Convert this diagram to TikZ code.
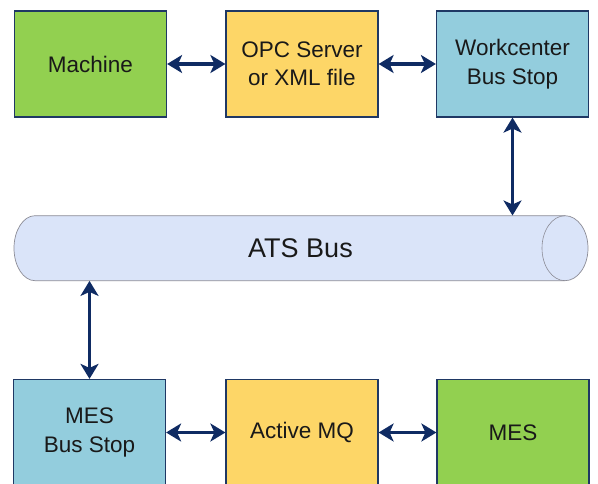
\documentclass[tikz,border=0pt]{standalone}
\usepackage{fontspec}
\setmainfont{Liberation Sans}
\usetikzlibrary{arrows.meta}
\definecolor{boxgreen}{HTML}{92D050}
\definecolor{boxyellow}{HTML}{FDD667}
\definecolor{boxblue}{HTML}{93CDDD}
\definecolor{busfill}{HTML}{DAE4F9}
\definecolor{navy}{HTML}{1F3864}
\definecolor{arrnavy}{HTML}{0F2B63}
\definecolor{busline}{HTML}{8C8C96}
\tikzset{
  blk/.style={draw=navy, line width=1.2pt, minimum width=152pt, minimum height=106pt,
    inner sep=0pt, align=center, text=black!90, font=\fontsize{22.5}{28.5}\selectfont},
  conn/.style={draw=arrnavy, line width=3.6pt,
    {Stealth[length=15pt,width=18pt,inset=4pt]}-{Stealth[length=15pt,width=18pt,inset=4pt]}}
}
\begin{document}
\begin{tikzpicture}[x=1pt,y=-1pt]
\clip (0,0) rectangle (598,484);
\fill[white] (0,0) rectangle (598,484);
% top row
\node[blk, fill=boxgreen] (mach) at (90.5,64) {Machine};
\node[blk, fill=boxyellow] (opc) at (302,64) {OPC Server\\or XML file};
\node[blk, fill=boxblue] (wc) at (512.5,64) {Workcenter\\Bus Stop};
% bottom row
\node[blk, fill=boxblue] (mesbs) at (89.5,432.5) {MES\\Bus Stop};
\node[blk, fill=boxyellow] (amq) at (302,432.5) {Active MQ};
\node[blk, fill=boxgreen] (mes) at (513,432.5) {MES};
% bus cylinder
\filldraw[fill=busfill, draw=busline, line width=0.7pt]
  (565,215.7) -- (35,215.7) arc[start angle=90, end angle=270, x radius=21pt, y radius=32.5pt]
  -- (565,280.7) arc[start angle=270, end angle=450, x radius=23pt, y radius=32.5pt] -- cycle;
\draw[busline, line width=0.6pt] (565,215.7) arc[start angle=90, end angle=270, x radius=23pt, y radius=32.5pt];
\node[minimum width=573pt, minimum height=65pt, inner sep=0pt,
  font=\fontsize{27}{32}\selectfont, text=black!90] (bus) at (300.5,248.2) {ATS Bus};
% connectors
\draw[conn] (mach.east) -- (opc.west);
\draw[conn] (opc.east) -- (wc.west);
\draw[conn] (wc.south) -- (wc.south |- bus.north);
\draw[conn] (mesbs.north |- bus.south) -- (mesbs.north);
\draw[conn] (mesbs.east) -- (amq.west);
\draw[conn] (amq.east) -- (mes.west);
\end{tikzpicture}
\end{document}
